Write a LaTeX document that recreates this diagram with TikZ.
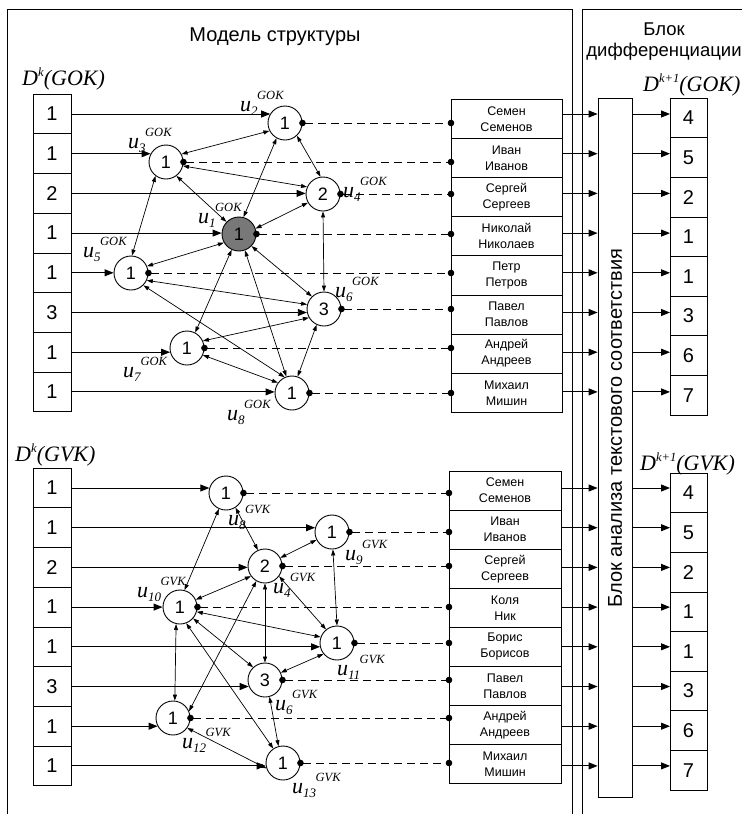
\documentclass[tikz,border=0pt]{standalone}
\usepackage{fontspec}
\setmainfont{Liberation Sans}
\newfontfamily\tms{Liberation Serif}
\usetikzlibrary{positioning,arrows.meta}

\definecolor{hub}{RGB}{120,120,120}

% vertex label u_i^{set} and column header D^k(set)
\newcommand{\ulab}[2]{\textit{u}\raisebox{-4pt}{\fontsize{13}{13}\selectfont\textit{#1}}\kern-0.5pt\raisebox{12pt}{\fontsize{12.5}{12.5}\selectfont\textit{#2}}}
\newcommand{\dlab}[2]{\textit{D}\raisebox{9pt}{\fontsize{12.5}{12.5}\selectfont\textit{#1}}\textit{(#2)}}

\begin{document}
\begin{tikzpicture}[x=1pt, y=-1pt,
  cell/.style={draw, rectangle, line width=0.8pt, minimum width=38pt, minimum height=39.7pt,
               inner sep=0pt, outer sep=0pt, font=\fontsize{20}{22}\selectfont},
  person/.style={draw, rectangle, line width=0.8pt, minimum width=111pt, minimum height=39.1pt,
               inner sep=0pt, outer sep=0pt, align=center, font=\fontsize{12.5}{16}\selectfont},
  vertex/.style={draw, circle, line width=0.9pt, minimum size=34pt, inner sep=0pt,
               font=\fontsize{18}{18}\selectfont},
  feed/.style={-{Triangle[length=9pt,width=7pt]}, line width=0.9pt},
  link/.style={{Triangle[length=6pt,width=4pt]}-{Triangle[length=6pt,width=4pt]}, line width=0.7pt},
  tie/.style={{Circle[length=6.5pt]}-{Circle[length=6.5pt]}, shorten <=-3.25pt, shorten >=-3.25pt,
               dash pattern=on 8pt off 5pt, line width=0.9pt},
  ulabel/.style={anchor=base west, inner sep=0pt, font=\tms\fontsize{22}{22}\selectfont}]

  \useasboundingbox (0,0) rectangle (742,814);

  % frames
  \draw[line width=0.8pt] (7,814) -- (7,9) -- (572,9) -- (572,814);
  \draw[line width=0.8pt] (742,9) -- (582,9) -- (582,814);

  \node (title) [font=\fontsize{20}{24}\selectfont] at (275,37) {Модель структуры};
  \node (diffhead) [align=center, font=\fontsize{18.5}{21}\selectfont] at (664,42) {Блок\\дифференциации};

  % headers of the value columns
  \node (dgok)  [ulabel] at (22,85)  {\dlab{k}{GOK}};
  \node (dgvk)  [ulabel] at (15,461) {\dlab{k}{GVK}};
  \node (dgok1) [ulabel] at (643,91) {\dlab{k+1}{GOK}};
  \node (dgvk1) [ulabel] at (640,470) {\dlab{k+1}{GVK}};

  % input values, GOK
  \node (ga1) [cell] at (52,114) {1};
  \node (ga2) [cell, below=0pt of ga1] {1};
  \node (ga3) [cell, below=0pt of ga2] {2};
  \node (ga4) [cell, below=0pt of ga3] {1};
  \node (ga5) [cell, below=0pt of ga4] {1};
  \node (ga6) [cell, below=0pt of ga5] {3};
  \node (ga7) [cell, below=0pt of ga6] {1};
  \node (ga8) [cell, below=0pt of ga7] {1};

  % input values, GVK
  \node (va1) [cell] at (52,488) {1};
  \node (va2) [cell, below=0pt of va1] {1};
  \node (va3) [cell, below=0pt of va2] {2};
  \node (va4) [cell, below=0pt of va3] {1};
  \node (va5) [cell, below=0pt of va4] {1};
  \node (va6) [cell, below=0pt of va5] {3};
  \node (va7) [cell, below=0pt of va6] {1};
  \node (va8) [cell, below=0pt of va7] {1};

  % structure graph, GOK
  \node (gu1) [vertex, fill=hub] at (239,234) {1};
  \node (gu2) [vertex] at (285,123) {1};
  \node (gu3) [vertex] at (166,162) {1};
  \node (gu4) [vertex] at (323,194) {2};
  \node (gu5) [vertex] at (131,273) {1};
  \node (gu6) [vertex] at (324,309) {3};
  \node (gu7) [vertex] at (187,348) {1};
  \node (gu8) [vertex] at (292,393) {1};

  \node (lu1) [ulabel] at (198,223) {\ulab{1}{GOK}};
  \node (lu2) [ulabel] at (240,111) {\ulab{2}{GOK}};
  \node (lu3) [ulabel] at (128,148) {\ulab{3}{GOK}};
  \node (lu4) [ulabel] at (343,197) {\ulab{4}{GOK}};
  \node (lu5) [ulabel] at (83,257)  {\ulab{5}{GOK}};
  \node (lu6) [ulabel] at (335,297) {\ulab{6}{GOK}};
  \node (lu7) [ulabel] at (123,377) {\ulab{7}{GOK}};
  \node (lu8) [ulabel] at (227,420) {\ulab{8}{GOK}};

  % structure graph, GVK
  \node (vu8)  [vertex] at (226,493) {1};
  \node (vu9)  [vertex] at (332,532) {1};
  \node (vu4)  [vertex] at (265,566) {2};
  \node (vu10) [vertex] at (180,607) {1};
  \node (vu11) [vertex] at (337,643) {1};
  \node (vu6)  [vertex] at (265,680) {3};
  \node (vu12) [vertex] at (173,718) {1};
  \node (vu13) [vertex] at (283,763) {1};

  \node (lv8)  [ulabel] at (228,525) {\ulab{8}{GVK}};
  \node (lv9)  [ulabel] at (345,560) {\ulab{9}{GVK}};
  \node (lv4)  [ulabel] at (273,593) {\ulab{4}{GVK}};
  \node (lv10) [ulabel] at (137,597) {\ulab{10}{GVK}};
  \node (lv11) [ulabel] at (337,675) {\ulab{11}{GVK}};
  \node (lv6)  [ulabel] at (275,710) {\ulab{6}{GVK}};
  \node (lv12) [ulabel] at (182,748) {\ulab{12}{GVK}};
  \node (lv13) [ulabel] at (292,793) {\ulab{13}{GVK}};

  % names, GOK
  \node (gn1) [person] at (506.5,119) {Семен\\Семенов};
  \node (gn2) [person, below=0pt of gn1] {Иван\\Иванов};
  \node (gn3) [person, below=0pt of gn2] {Сергей\\Сергеев};
  \node (gn4) [person, below=0pt of gn3] {Николай\\Николаев};
  \node (gn5) [person, below=0pt of gn4] {Петр\\Петров};
  \node (gn6) [person, below=0pt of gn5] {Павел\\Павлов};
  \node (gn7) [person, below=0pt of gn6] {Андрей\\Андреев};
  \node (gn8) [person, below=0pt of gn7] {Михаил\\Мишин};

  % names, GVK
  \node (vn1) [person, minimum width=112pt] at (505,490.5) {Семен\\Семенов};
  \node (vn2) [person, minimum width=112pt, below=0pt of vn1] {Иван\\Иванов};
  \node (vn3) [person, minimum width=112pt, below=0pt of vn2] {Сергей\\Сергеев};
  \node (vn4) [person, minimum width=112pt, below=0pt of vn3] {Коля\\Ник};
  \node (vn5) [person, minimum width=112pt, below=0pt of vn4] {Борис\\Борисов};
  \node (vn6) [person, minimum width=112pt, below=0pt of vn5] {Павел\\Павлов};
  \node (vn7) [person, minimum width=112pt, below=0pt of vn6] {Андрей\\Андреев};
  \node (vn8) [person, minimum width=112pt, below=0pt of vn7] {Михаил\\Мишин};

  % text matching block
  \node (match) [draw, rectangle, line width=0.8pt, minimum width=34pt, minimum height=699pt,
                inner sep=0pt] at (615,447.5) {};
  \node (matchtext) [rotate=90, font=\fontsize{20}{22}\selectfont] at (615,428)
                {Блок анализа текстового соответствия};

  % output values
  \node (gb1) [cell, minimum width=37pt, minimum height=39.6pt] at (688.5,118) {4};
  \node (gb2) [cell, minimum width=37pt, minimum height=39.6pt, below=0pt of gb1] {5};
  \node (gb3) [cell, minimum width=37pt, minimum height=39.6pt, below=0pt of gb2] {2};
  \node (gb4) [cell, minimum width=37pt, minimum height=39.6pt, below=0pt of gb3] {1};
  \node (gb5) [cell, minimum width=37pt, minimum height=39.6pt, below=0pt of gb4] {1};
  \node (gb6) [cell, minimum width=37pt, minimum height=39.6pt, below=0pt of gb5] {3};
  \node (gb7) [cell, minimum width=37pt, minimum height=39.6pt, below=0pt of gb6] {6};
  \node (gb8) [cell, minimum width=37pt, minimum height=39.6pt, below=0pt of gb7] {7};

  \node (vb1) [cell, minimum width=37pt, minimum height=39.6pt] at (688.5,493) {4};
  \node (vb2) [cell, minimum width=37pt, minimum height=39.6pt, below=0pt of vb1] {5};
  \node (vb3) [cell, minimum width=37pt, minimum height=39.6pt, below=0pt of vb2] {2};
  \node (vb4) [cell, minimum width=37pt, minimum height=39.6pt, below=0pt of vb3] {1};
  \node (vb5) [cell, minimum width=37pt, minimum height=39.6pt, below=0pt of vb4] {1};
  \node (vb6) [cell, minimum width=37pt, minimum height=39.6pt, below=0pt of vb5] {3};
  \node (vb7) [cell, minimum width=37pt, minimum height=39.6pt, below=0pt of vb6] {6};
  \node (vb8) [cell, minimum width=37pt, minimum height=39.6pt, below=0pt of vb7] {7};

  % inputs into the graph, GOK
  \draw[feed] (ga1.east) -- (ga1.east -| gu2.148);
  \draw[feed] (ga2.east) -- (ga2.east -| gu3.152);
  \draw[feed] (ga3.east) -- (ga3.east -| gu4.west);
  \draw[feed] (ga4.east) -- (ga4.east -| gu1.west);
  \draw[feed] (ga5.east) -- (ga5.east -| gu5.west);
  \draw[feed] (ga6.east) -- (ga6.east -| gu6.190);
  \draw[feed] (ga7.east) -- (ga7.east -| gu7.194);
  \draw[feed] (ga8.east) -- (ga8.east -| gu8.west);

  % inputs into the graph, GVK
  \draw[feed] (va1.east) -- (va1.east -| vu8.163);
  \draw[feed] (va2.east) -- (va2.east -| vu9.166);
  \draw[feed] (va3.east) -- (va3.east -| vu4.west);
  \draw[feed] (va4.east) -- (va4.east -| vu10.west);
  \draw[feed] (va5.east) -- (va5.east -| vu11.194);
  \draw[feed] (va6.east) -- (va6.east -| vu6.201);
  \draw[feed] (va7.east) -- (va7.east -| vu12.208);
  \draw[feed] (va8.east) -- (va8.east -| vu13.187);

  % graph links, GOK
  \draw[link] (gu3.27)  -- (gu2.207);
  \draw[link] (gu2.313) -- (gu4.98);
  \draw[link] (gu3.347) -- (gu4.156);
  \draw[link] (gu3.307) -- (gu1.136);
  \draw[link] (gu2.241) -- (gu1.75);
  \draw[link] (gu1.18)  -- (gu4.210);
  \draw[link] (gu3.233) -- (gu5.87);
  \draw[link] (gu4.270) -- (gu6.90);
  \draw[link] (gu5.23)  -- (gu1.210);
  \draw[link] (gu1.316) -- (gu6.134);
  \draw[link] (gu5.335) -- (gu6.165);
  \draw[link] (gu5.315) -- (gu8.115);
  \draw[link] (gu1.245) -- (gu7.62);
  \draw[link] (gu1.290) -- (gu8.109);
  \draw[link] (gu7.24)  -- (gu6.210);
  \draw[link] (gu7.336) -- (gu8.144);
  \draw[link] (gu6.245) -- (gu8.71);

  % graph links, GVK
  \draw[link] (vu8.246)  -- (vu10.75);
  \draw[link] (vu8.303)  -- (vu4.114);
  \draw[link] (vu4.28)   -- (vu9.207);
  \draw[link] (vu4.216)  -- (vu10.25);
  \draw[link] (vu10.344) -- (vu11.160);
  \draw[link] (vu9.273)  -- (vu11.90);
  \draw[link] (vu4.324)  -- (vu11.129);
  \draw[link] (vu4.270)  -- (vu6.90);
  \draw[link] (vu4.240)  -- (vu12.23);
  \draw[link] (vu10.257) -- (vu12.84);
  \draw[link] (vu10.319) -- (vu6.133);
  \draw[link] (vu10.291) -- (vu13.124);
  \draw[link] (vu6.25)   -- (vu11.219);
  \draw[link] (vu6.285)  -- (vu13.105);
  \draw[link] (vu12.325) -- (vu13.198);

  % vertices tied to names
  \draw[tie] (gu2.east) -- (gu2.east -| gn1.west);
  \draw[tie] (gu3.east) -- (gu3.east -| gn2.west);
  \draw[tie] (gu4.east) -- (gu4.east -| gn3.west);
  \draw[tie] (gu1.east) -- (gu1.east -| gn4.west);
  \draw[tie] (gu5.east) -- (gu5.east -| gn5.west);
  \draw[tie] (gu6.east) -- (gu6.east -| gn6.west);
  \draw[tie] (gu7.east) -- (gu7.east -| gn7.west);
  \draw[tie] (gu8.east) -- (gu8.east -| gn8.west);

  \draw[tie] (vu8.east)  -- (vu8.east -| vn1.west);
  \draw[tie] (vu9.east)  -- (vu9.east -| vn2.west);
  \draw[tie] (vu4.east)  -- (vu4.east -| vn3.west);
  \draw[tie] (vu10.east) -- (vu10.east -| vn4.west);
  \draw[tie] (vu11.east) -- (vu11.east -| vn5.west);
  \draw[tie] (vu6.east)  -- (vu6.east -| vn6.west);
  \draw[tie] (vu12.east) -- (vu12.east -| vn7.west);
  \draw[tie] (vu13.east) -- (vu13.east -| vn8.west);

  % names into the matching block and out, GOK
  \draw[feed] (ga1 -| gn1.east) -- (ga1 -| match.west);
  \draw[feed] (ga2 -| gn1.east) -- (ga2 -| match.west);
  \draw[feed] (ga3 -| gn1.east) -- (ga3 -| match.west);
  \draw[feed] (ga4 -| gn1.east) -- (ga4 -| match.west);
  \draw[feed] (ga5 -| gn1.east) -- (ga5 -| match.west);
  \draw[feed] (ga6 -| gn1.east) -- (ga6 -| match.west);
  \draw[feed] (ga7 -| gn1.east) -- (ga7 -| match.west);
  \draw[feed] (ga8 -| gn1.east) -- (ga8 -| match.west);

  \draw[feed] (ga1 -| match.east) -- (ga1 -| gb1.west);
  \draw[feed] (ga2 -| match.east) -- (ga2 -| gb1.west);
  \draw[feed] (ga3 -| match.east) -- (ga3 -| gb1.west);
  \draw[feed] (ga4 -| match.east) -- (ga4 -| gb1.west);
  \draw[feed] (ga5 -| match.east) -- (ga5 -| gb1.west);
  \draw[feed] (ga6 -| match.east) -- (ga6 -| gb1.west);
  \draw[feed] (ga7 -| match.east) -- (ga7 -| gb1.west);
  \draw[feed] (ga8 -| match.east) -- (ga8 -| gb1.west);

  % names into the matching block and out, GVK
  \draw[feed] (va1 -| vn1.east) -- (va1 -| match.west);
  \draw[feed] (va2 -| vn1.east) -- (va2 -| match.west);
  \draw[feed] (va3 -| vn1.east) -- (va3 -| match.west);
  \draw[feed] (va4 -| vn1.east) -- (va4 -| match.west);
  \draw[feed] (va5 -| vn1.east) -- (va5 -| match.west);
  \draw[feed] (va6 -| vn1.east) -- (va6 -| match.west);
  \draw[feed] (va7 -| vn1.east) -- (va7 -| match.west);
  \draw[feed] (va8 -| vn1.east) -- (va8 -| match.west);

  \draw[feed] (va1 -| match.east) -- (va1 -| vb1.west);
  \draw[feed] (va2 -| match.east) -- (va2 -| vb1.west);
  \draw[feed] (va3 -| match.east) -- (va3 -| vb1.west);
  \draw[feed] (va4 -| match.east) -- (va4 -| vb1.west);
  \draw[feed] (va5 -| match.east) -- (va5 -| vb1.west);
  \draw[feed] (va6 -| match.east) -- (va6 -| vb1.west);
  \draw[feed] (va7 -| match.east) -- (va7 -| vb1.west);
  \draw[feed] (va8 -| match.east) -- (va8 -| vb1.west);
\end{tikzpicture}
\end{document}
